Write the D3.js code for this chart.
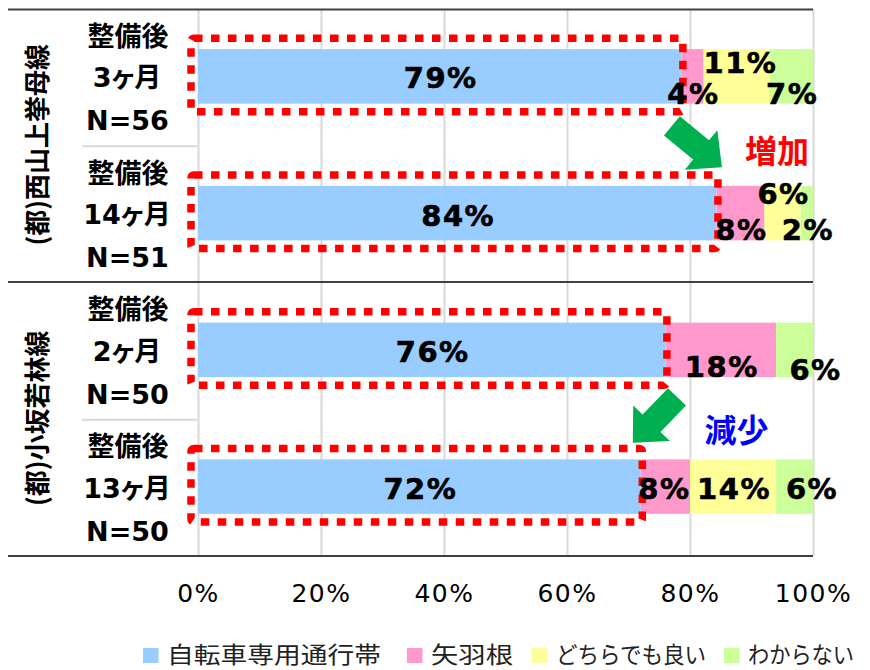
<!DOCTYPE html>
<html><head><meta charset="utf-8">
<script src="https://cdn.jsdelivr.net/npm/d3@7"></script>
<style>
html,body{margin:0;padding:0;background:#fff;}
svg{display:block;}
</style></head>
<body>
<svg id="chart" width="870" height="670"></svg>
<script>
// ---- data ----
const groups = ["(都)西山上挙母線", "(都)小坂若林線"];
const groupOfRow = [0, 0, 1, 1];
const stageLabel = ["整備後", "整備後", "整備後", "整備後"];
const periods = ["3ヶ月", "14ヶ月", "2ヶ月", "13ヶ月"];
const sampleSizes = [56, 51, 50, 50];
const seriesNames = ["自転車専用通行帯", "矢羽根", "どちらでも良い", "わからない"];
const bikeLane = [78.6, 84.3, 76, 72];
const arrowMarks = [3.6, 7.8, 18, 8];
const either = [10.7, 5.9, 0, 14];
const unknown = [7.1, 2.0, 6, 6];
const xTicks = [0, 20, 40, 60, 80, 100];
const notes = ["増加", "減少"];

// ---- styles / layout ----
const colors = ["#99CCFF", "#FF99CC", "#FFFF99", "#CCFF99"];
const latin = "'DejaVu Sans', 'Noto Sans CJK JP', sans-serif";
const cjk = "'Noto Sans CJK JP', 'DejaVu Sans', sans-serif";
// label offsets [dx, dy] relative to segment centre (manual placement in original)
const labelShift = [
  [[0, 1.5], [0, 17.5], [3, -13.5], [0, 17.5]],
  [[0, 2], [0, 16], [0, -19.5], [0, 16]],
  [[0, 2], [0, 17], [0, 0], [20, 20]],
  [[0, 2], [-2, 2], [0, 2], [16.5, 2]]
];
const legendX = [143, 407, 532, 724];
const legendTextW = [214, 82, 150, 106];

const svg = d3.select("#chart");
const x = d3.scaleLinear().domain([0, 100]).range([198, 813]);
const rowIdx = d3.range(periods.length);
const yRow = d3.scaleBand().domain(rowIdx).range([8, 555]);
const barH = 54.5;
const rowC = i => yRow(i) + yRow.bandwidth() / 2;
const frameTop = 9.5, frameBottom = 556, frameLeft = 8;

// stack
const table = rowIdx.map(i => ({row: i, s0: bikeLane[i], s1: arrowMarks[i], s2: either[i], s3: unknown[i]}));
const stack = d3.stack().keys(["s0", "s1", "s2", "s3"])(table);

// gridlines + tick labels
const axis = d3.axisBottom(x).tickValues(xTicks).tickFormat(d => d + "%")
  .tickSize(-(frameBottom - frameTop)).tickPadding(28);
const gAxis = svg.append("g").attr("transform", `translate(0,${frameBottom})`).call(axis);
gAxis.select(".domain").remove();
gAxis.selectAll(".tick line").attr("stroke", "#D9D9D9").attr("stroke-width", 2);
gAxis.selectAll(".tick text").attr("fill", "#000").style("font-family", latin)
  .style("font-size", "25px").style("letter-spacing", "1.5px");

// bars
svg.append("g").selectAll("g").data(stack).join("g")
  .attr("fill", (d, k) => colors[k])
  .selectAll("rect").data(d => d).join("rect")
  .attr("x", d => x(d[0]))
  .attr("width", d => x(d[1]) - x(d[0]))
  .attr("y", (d, i) => rowC(i) - barH / 2)
  .attr("height", barH);

// frame lines
const dark = "#404040";
[frameTop, (yRow(1) + yRow.bandwidth() + yRow(2)) / 2 + 0.5, frameBottom].forEach(yy => {
  svg.append("line").attr("x1", frameLeft).attr("x2", x(100)).attr("y1", yy).attr("y2", yy)
    .attr("stroke", dark).attr("stroke-width", 2.2);
});
// inner separators between rows in each group
[0, 2].forEach(i => {
  const yy = yRow(i) + yRow.bandwidth() + 1.5;
  svg.append("line").attr("x1", 82).attr("x2", x(0) - 1).attr("y1", yy).attr("y2", yy)
    .attr("stroke", "#D9D9D9").attr("stroke-width", 2);
});

// category labels
rowIdx.forEach(i => {
  const g = svg.append("g").attr("text-anchor", "middle").attr("fill", "#000")
    .style("font-weight", "bold").style("font-size", "27px");
  g.append("text").attr("x", 128).attr("y", rowC(i) - 42).attr("dominant-baseline", "central")
    .style("font-family", cjk).text(stageLabel[i]);
  g.append("text").attr("x", 127).attr("y", rowC(i) + 1.5).attr("dominant-baseline", "central")
    .style("font-family", latin).style("font-feature-settings", "'palt'").text(periods[i]);
  g.append("text").attr("x", 127.5).attr("y", rowC(i) + 44 + 10).style("font-family", latin)
    .text("N=" + sampleSizes[i]);
});

// group labels (rotated)
groups.forEach((gname, gi) => {
  const rows = rowIdx.filter(i => groupOfRow[i] === gi);
  const cy = (rowC(rows[0]) + rowC(rows[rows.length - 1])) / 2;
  svg.append("text").attr("transform", `translate(35,${cy}) rotate(-90)`)
    .attr("text-anchor", "middle").attr("dominant-baseline", "central")
    .style("font-family", cjk).style("font-weight", "bold").style("font-size", "26px")
    .attr("fill", "#000").text(gname);
});

// red dotted boxes around bike-lane bars
rowIdx.forEach(i => {
  const x1 = x(0) - 7, x2 = x(bikeLane[i]) + 1.5;
  const y1 = rowC(i) - barH / 2 - 11, y2 = rowC(i) + barH / 2 + 8;
  svg.append("rect").attr("x", x1).attr("y", y1).attr("width", x2 - x1).attr("height", y2 - y1)
    .attr("rx", 3).attr("fill", "none").attr("stroke", "#FF0000").attr("stroke-width", 7.5)
    .attr("stroke-dasharray", "8.5 8.5");
});

// value labels
stack.forEach((ser, k) => {
  ser.forEach((d, i) => {
    const v = d[1] - d[0];
    if (v <= 0) return;
    const sh = labelShift[i][k];
    svg.append("text")
      .attr("x", (x(d[0]) + x(d[1])) / 2 + sh[0] + 1)
      .attr("y", rowC(i) + sh[1] + 10.5)
      .attr("text-anchor", "middle").attr("fill", "#000")
      .style("font-family", latin).style("font-weight", "bold").style("font-size", "29px")
      .style("letter-spacing", "1.5px").attr("stroke", "#000").attr("stroke-width", 0.6)
      .text(Math.round(v) + "%");
  });
});

// green arrows
function arrow(tail, tip) {
  const dx = tip[0] - tail[0], dy = tip[1] - tail[1];
  const L = Math.hypot(dx, dy), ang = Math.atan2(dy, dx) * 180 / Math.PI;
  const hl = 27, sw = 12.5, hw = 25.5;
  const pts = [[0, -sw], [L - hl, -sw], [L - hl, -hw], [L, 0], [L - hl, hw], [L - hl, sw], [0, sw]];
  svg.append("polygon").attr("points", pts.map(p => p.join(",")).join(" "))
    .attr("transform", `translate(${tail[0]},${tail[1]}) rotate(${ang})`)
    .attr("fill", "#00B050");
}
arrow([x(bikeLane[0]) - 9.5, rowC(0) + 49.5], [x(bikeLane[1]) + 5.5, rowC(1) - 46]);
arrow([x(bikeLane[2]) + 11.6, rowC(2) + 47], [x(bikeLane[3]) - 8, rowC(3) - 44]);

// notes
svg.append("text").attr("x", 777).attr("y", (rowC(0) + rowC(1)) / 2 + 4)
  .attr("text-anchor", "middle").attr("dominant-baseline", "central")
  .style("font-family", cjk).style("font-weight", "bold").style("font-size", "32px")
  .attr("fill", "#FF0000").text(notes[0]);
svg.append("text").attr("x", 736.5).attr("y", (rowC(2) + rowC(3)) / 2 + 10)
  .attr("text-anchor", "middle").attr("dominant-baseline", "central")
  .style("font-family", cjk).style("font-weight", "bold").style("font-size", "32px")
  .attr("fill", "#0000FF").text(notes[1]);

// legend
const leg = svg.append("g");
const ly = 655;
seriesNames.forEach((name, k) => {
  leg.append("rect").attr("x", legendX[k]).attr("y", ly - 7).attr("width", 15.5).attr("height", 15)
    .attr("fill", colors[k]);
  leg.append("text").attr("x", legendX[k] + 24).attr("y", ly + 7.5)
    .attr("textLength", legendTextW[k]).attr("lengthAdjust", "spacingAndGlyphs")
    .style("font-family", cjk).style("font-size", "23px")
    .attr("fill", "#222").text(name);
});
</script>
</body></html>
